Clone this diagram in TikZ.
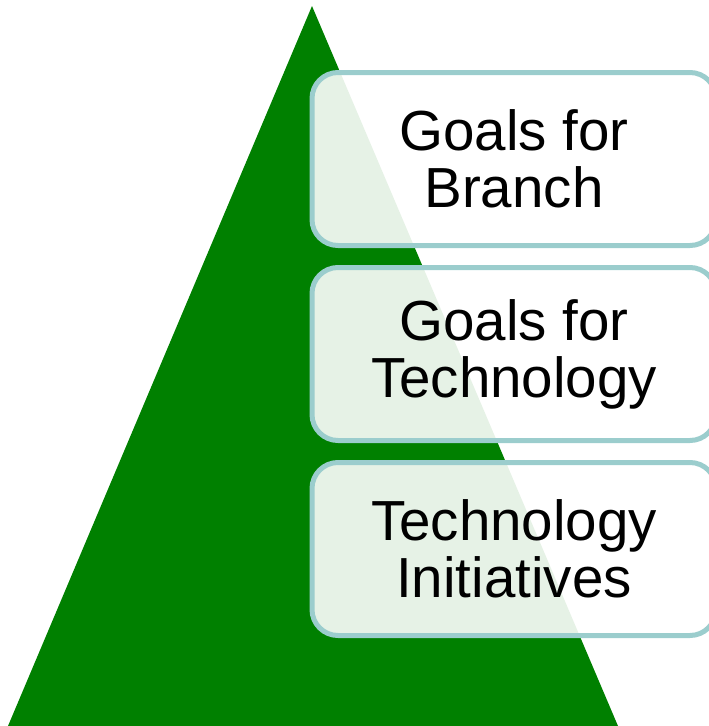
\documentclass[tikz,border=0pt]{standalone}
\usepackage{fontspec}
\setmainfont{Liberation Sans}
\usetikzlibrary{positioning}

\definecolor{pyramidgreen}{RGB}{0,128,0}
\definecolor{boxteal}{RGB}{155,205,205}

\begin{document}
\begin{tikzpicture}[x=1pt,y=-1pt,
    level/.style={rectangle,rounded corners=26pt,draw=boxteal,line width=5pt,
        fill=white,fill opacity=0.9,text opacity=1,outer sep=0pt,
        minimum width=404pt,minimum height=173pt,inner sep=0pt,
        align=center,font=\fontsize{56.5}{57}\selectfont},
    node distance=22pt
]
 \clip (0,0) rectangle (709,726);
 \coordinate (apex) at (312,6);
 \coordinate (base left) at (8,726);
 \coordinate (base right) at (618,726);
 \fill[pyramidgreen] (apex) -- (base right) -- (base left) -- cycle;

 \node[level] (branch) at (514,159) {Goals for\\Branch};
 \node[level] (technology) [below=of branch] {Goals for\\Technology};
 \node[level] (initiatives) [below=of technology] {Technology\\Initiatives};
\end{tikzpicture}
\end{document}
